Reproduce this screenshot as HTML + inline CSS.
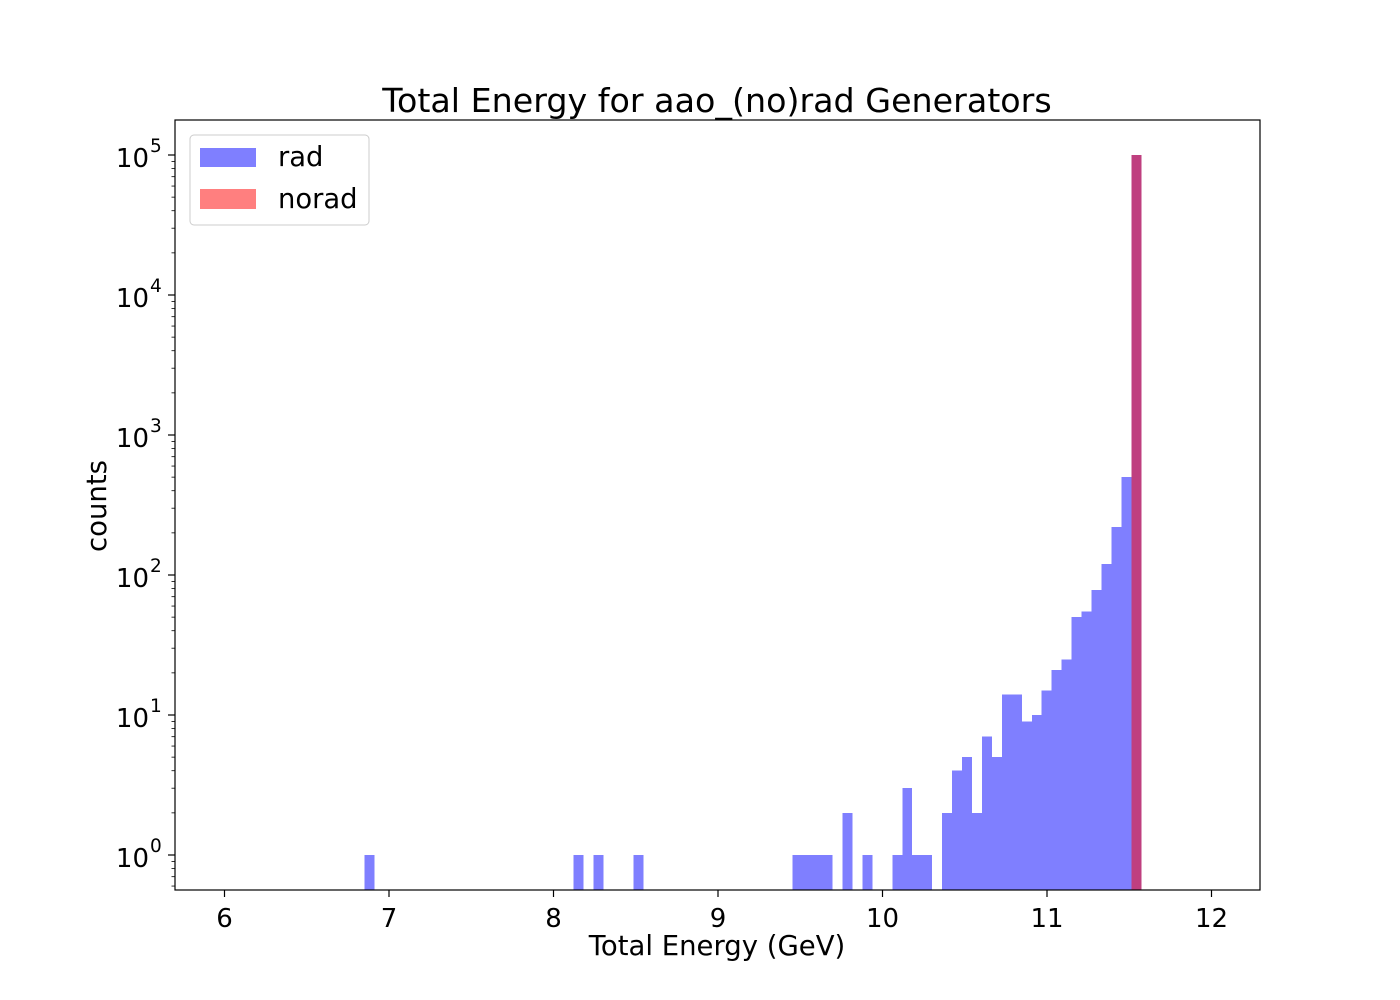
<!DOCTYPE html>
<html><head><meta charset="utf-8"><style>
body{margin:0;background:#fff}
svg{display:block;font-family:"DejaVu Sans","Liberation Sans",sans-serif}
#bars rect{shape-rendering:crispEdges}
</style></head><body>
<svg id="c" width="1400" height="1000" xmlns="http://www.w3.org/2000/svg">
<rect width="1400" height="1000" fill="#fff"/>
<text x="717" y="112" font-size="33.3" text-anchor="middle">Total Energy for aao_(no)rad Generators</text>
<g id="bars"></g>
<g id="axes"></g>
<text x="717" y="955" font-size="27.5" text-anchor="middle">Total Energy (GeV)</text>
<text transform="translate(106,506) rotate(-90)" font-size="27.5" text-anchor="middle">counts</text>
<g>
<rect x="190" y="135" width="179" height="90" rx="4" fill="#fff" fill-opacity="0.8" stroke="#ccc"/>
<rect x="200" y="148" width="56" height="19" fill="#0000ff" fill-opacity="0.5"/>
<text x="278" y="166" font-size="27.4">rad</text>
<rect x="200" y="189" width="56" height="20" fill="#ff0000" fill-opacity="0.5"/>
<text x="278" y="208" font-size="27.4">norad</text>
</g>
</svg>
<script>
const radBinStart = 6.85;
const radBinWidth = 0.06056;
const radBinIndex = [0,21,23,27,43,44,45,46,48,50,53,54,55,56,58,59,60,61,62,63,64,65,66,67,68,69,70,71,72,73,74,75,76,77];
const radCounts   = [1,1,1,1,1,1,1,1,2,1,1,3,1,1,2,4,5,2,7,5,14,14,9,10,15,21,25,50,55,78,120,220,500,100000];
const noradBinStart = [11.5131];
const noradCounts = [100000];
const xTicks = [6,7,8,9,10,11,12];
const yDecades = [0,1,2,3,4,5];

const L=175,R=1260,T=120,B=890;
const X0=224.5, XS=164.5;
const Y0=855, YS=140;
function xs(v){return X0+(v-6)*XS;}
function ys(v){return Y0-Math.log10(v)*YS;}
const NS="http://www.w3.org/2000/svg";
function mk(tag,attrs,parent){const e=document.createElementNS(NS,tag);for(const k in attrs)e.setAttribute(k,attrs[k]);parent.appendChild(e);return e;}
const bars=document.getElementById('bars'), axes=document.getElementById('axes');
radBinIndex.forEach((bi,i)=>{
  const x0=xs(radBinStart+bi*radBinWidth), x1=xs(radBinStart+(bi+1)*radBinWidth);
  const r=mk('rect',{x:x0,y:ys(radCounts[i]),width:x1-x0,height:B-ys(radCounts[i]),fill:'#0000ff','fill-opacity':0.5},bars);
  
  
});
noradBinStart.forEach((s,i)=>{
  const x0=xs(s), x1=xs(s+radBinWidth);
  const r=mk('rect',{x:x0,y:ys(noradCounts[i]),width:x1-x0,height:B-ys(noradCounts[i]),fill:'#ff0000','fill-opacity':0.5},bars);
  
  
});
const frame=mk('rect',{x:L,y:T,width:R-L,height:B-T,fill:'none',stroke:'#000','stroke-width':1.2},axes);


xTicks.forEach(t=>{
  const x=xs(t);
  mk('line',{x1:x,x2:x,y1:B,y2:B+7,stroke:'#000','stroke-width':1.2},axes);
  const tx=mk('text',{x:x,y:B+37,'font-size':26,'text-anchor':'middle'},axes);
  tx.textContent=t;
  
  
});
yDecades.forEach(d=>{
  const y=Y0-d*YS;
  mk('line',{x1:L-7,x2:L,y1:y,y2:y,stroke:'#000','stroke-width':1.2},axes);
  const tx=mk('text',{x:L-26,y:y+12,'font-size':26,'text-anchor':'end'},axes);
  tx.textContent='10';
  
  
  const sp=mk('text',{x:L-25,y:y-3,'font-size':18.5},axes);
  sp.textContent=d;
  
  
});
for(let d=-1;d<=5;d++){
  for(let m=2;m<=9;m++){
    const v=m*Math.pow(10,d);
    const y=ys(v);
    if(y<T||y>B)continue;
    mk('line',{x1:L-3.5,x2:L,y1:y,y2:y,stroke:'#000','stroke-width':0.8},axes);
  }
}
</script>
</body></html>
